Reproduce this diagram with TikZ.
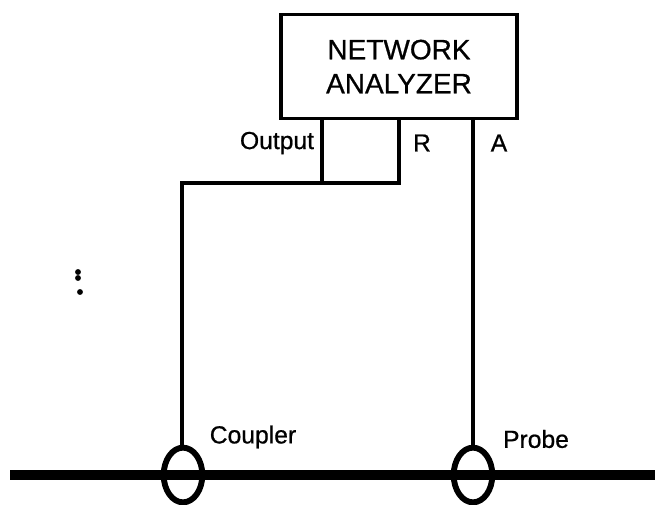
\documentclass[tikz,border=0pt]{standalone}
\usepackage{fontspec}
\setmainfont[FakeBold=0.7,AutoFakeBold=0.7]{Liberation Sans}
\usetikzlibrary{shapes.geometric}
\tikzset{
  wire/.style={line width=2.4pt},
  label/.style={font=\bfseries\fontsize{18.5}{22}\selectfont,inner sep=0pt},
  analyzer/.style={draw,line width=2.4pt,minimum width=177pt,minimum height=78pt,inner sep=0pt,
    align=center,font=\bfseries\fontsize{21}{25.5}\selectfont},
  loop/.style={draw,ellipse,line width=4.4pt,minimum width=29pt,minimum height=41pt,inner sep=0pt}
}
\begin{document}
\begin{tikzpicture}[x=0.75pt,y=-0.75pt]
    \useasboundingbox (0,0) rectangle (655,505);
    \node[analyzer] (box) at (399,66.5) {NETWORK\\ANALYZER};
    \node[loop] (coupler) at (183,475) {};
    \node[loop] (probe) at (473,475) {};
    \coordinate (railL) at (10,475);
    \coordinate (railR) at (655,475);
    \coordinate (out) at (322,183);
    \coordinate (ref) at (399,183);
    \coordinate (turn) at (182,183);
    \draw[line width=8.2pt] (railL) -- (railR);
    \draw[wire] (box.south -| out) -- (out);
    \draw[wire] (box.south -| ref) -- (ref) -- (turn) -- (turn |- coupler.north);
    \draw[wire] (box.south -| probe) -- (probe.north);
    \node[label] (outlabel) at (277,143) {Output};
    \node[label] (rlabel) at (422,143) {R};
    \node[label] (alabel) at (499,143) {A};
    \node[label] (couplerlabel) at (253,437) {Coupler};
    \node[label] (probelabel) at (536,439) {Probe};
    \fill (78,272) circle (2.2pt);
    \fill (78,278) circle (2.2pt);
    \fill (80,292) circle (2.2pt);
  \end{tikzpicture}
\end{document}
